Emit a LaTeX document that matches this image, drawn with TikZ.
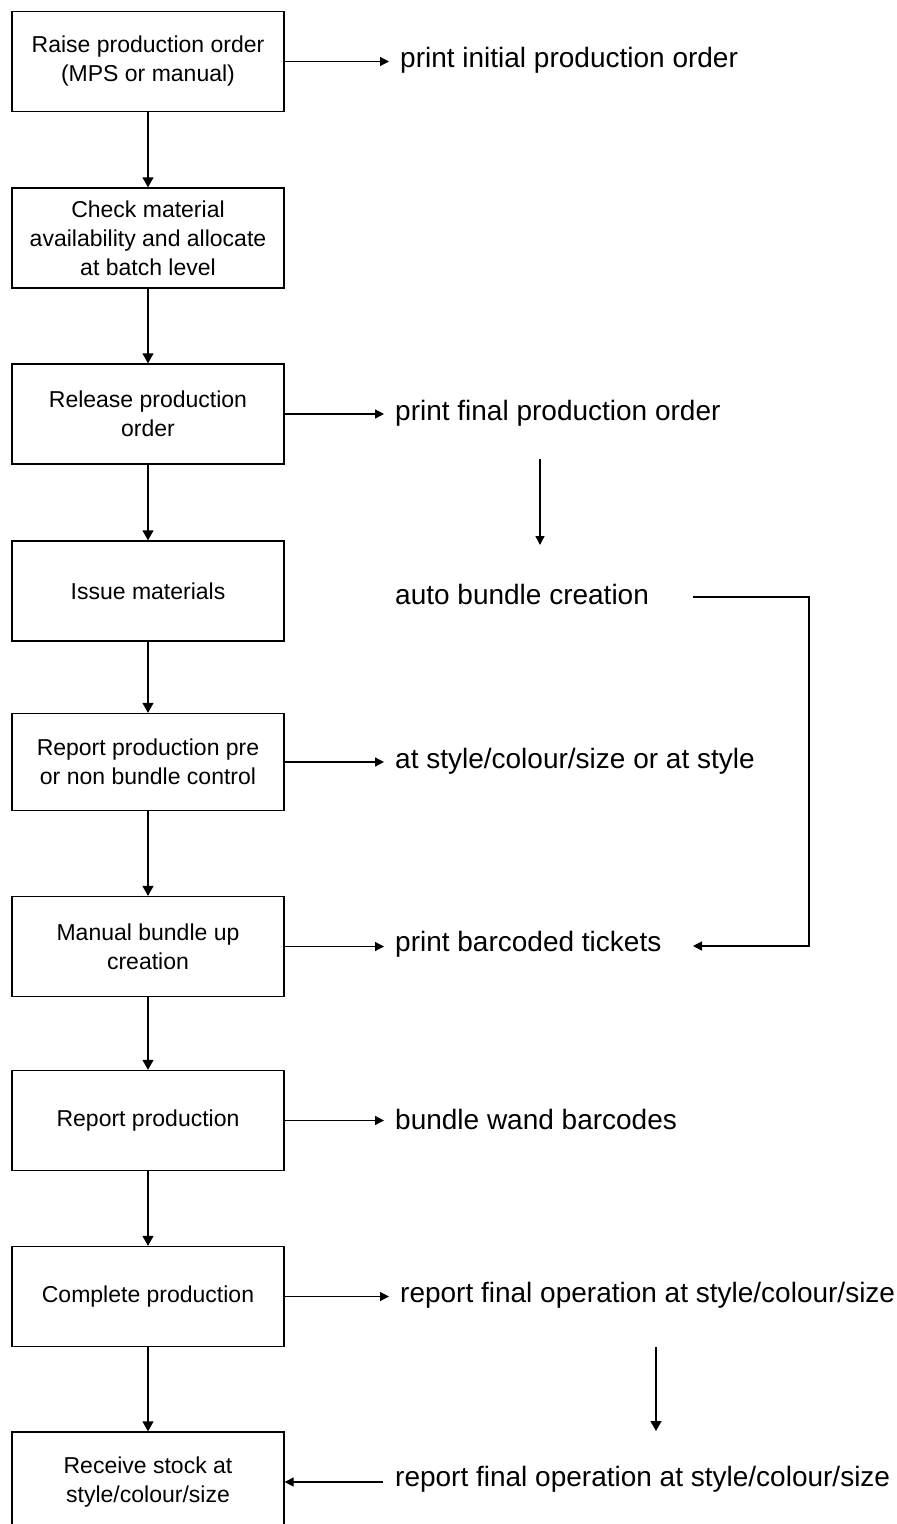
\documentclass[tikz,border=0pt]{standalone}
\usepackage{fontspec}
\setmainfont{Liberation Sans}
\usepackage{tikz}
\usetikzlibrary{positioning,arrows.meta,calc}
\tikzset{
	stage/.style={
			draw,
			line width=1.3pt,
			minimum width=272pt,
			minimum height=100pt,
			align=center,
			font=\fontsize{23}{29}\selectfont
		},
	note/.style={
			anchor=west,
			inner xsep=0pt,
			font=\fontsize{28}{32}\selectfont
		},
	down/.style={-{Triangle[length=10pt,width=11pt]}, line width=1.3pt},
	side/.style={-{Triangle[length=9pt,width=9pt]}, line width=1.3pt, shorten >=11pt}
}

\begin{document}
\begin{tikzpicture}[x=1pt,y=-1pt]
		\useasboundingbox (0,0) rectangle (897,1524);

		% Production steps
		\node[stage] (raise) at (148,61.5) {Raise production order\\(MPS or manual)};
		\node[stage] (check) at (148,238) {Check material\\availability and allocate\\at batch level};
		\node[stage] (release) at (148,414) {Release production\\order};
		\node[stage] (issue) at (148,591) {Issue materials};
		\node[stage,
			minimum height=97pt
		] (reportpre) at (148,762) {Report production pre\\or non bundle control};
		\node[stage] (manual) at (148,946.5) {Manual bundle up\\creation};
		\node[stage] (reportprod) at (148,1120.5) {Report production};
		\node[stage] (complete) at (148,1296.5) {Complete production};
		\node[stage] (receive) at (148,1482) {Receive stock at\\style/colour/size};

		% Outputs
		\node[note] (printinit) at (400,60) {print initial production order};
		\node[note] (printfinal) at (395,413) {print final production order};
		\node[note] (autobundle) at (395,594) {auto bundle creation};
		\node[note] (atstyle) at (395,761) {at style/colour/size or at style};
		\node[note] (tickets) at (395,944) {print barcoded tickets};
		\node[note] (wand) at (395,1119) {bundle wand barcodes};
		\node[note] (finalop) at (400,1295) {report final operation at style/colour/size};
		\node[note] (finalopb) at (395,1479) {report final operation at style/colour/size};

		% free arrows between outputs
		\coordinate (fintop) at (540,459);
		\coordinate (finbot) at (540,545);
		\coordinate (optop) at (656,1347);
		\coordinate (opbot) at (656,1431);
		\coordinate (loopin) at (693,597);
		\coordinate (loopout) at (693,946);

		% Main flow
		\draw[down] (raise.south) -- (check.north);
		\draw[down] (check.south) -- (release.north);
		\draw[down] (release.south) -- (issue.north);
		\draw[down] (issue.south) -- (reportpre.north);
		\draw[down] (reportpre.south) -- (manual.north);
		\draw[down] (manual.south) -- (reportprod.north);
		\draw[down] (reportprod.south) -- (complete.north);
		\draw[down] (complete.south) -- (receive.north);

		% Arrows to outputs
		\draw[side] (raise.east) -- (raise.east -| printinit.west);
		\draw[side] (release.east) -- (release.east -| printfinal.west);
		\draw[side] (reportpre.east) -- (reportpre.east -| atstyle.west);
		\draw[side] (manual.east) -- (manual.east -| tickets.west);
		\draw[side] (reportprod.east) -- (reportprod.east -| wand.west);
		\draw[side] (complete.east) -- (complete.east -| finalop.west);
		\draw[side, shorten >=0pt, shorten <=12pt] (receive.east -| finalopb.west) -- (receive.east);

		\draw[side, shorten >=0pt] (fintop) -- (finbot);
		\draw[down] (optop) -- (opbot);
		\draw[side, shorten >=0pt] (loopin) -- ++(116,0) |- (loopout);
	\end{tikzpicture}
\end{document}
